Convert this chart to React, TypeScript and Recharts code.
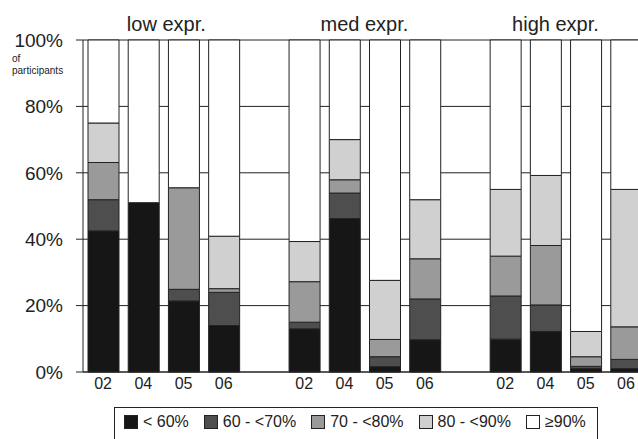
import { BarChart, Bar, XAxis, YAxis, CartesianGrid } from "recharts";

// adherence categories, stacked bottom to top
const groups = ["low expr.", "med expr.", "high expr."];
const waves = ["02", "04", "05", "06"];
const seriesNames = ["< 60%", "60 - <70%", "70 - <80%", "80 - <90%", "\u226590%"];
const seriesColors = ["#161616", "#4e4e4e", "#9a9a9a", "#d0d0d0", "#ffffff"];

// values per group x wave (low 02..06, med 02..06, high 02..06), in %
const lt60 = [42.5, 51, 21.4, 14, 13, 46.2, 1.6, 9.7, 9.9, 12.2, 1, 1];
const p60to70 = [9.4, 0, 3.5, 10, 2, 7.7, 3, 12.3, 13, 8, 0.7, 2.8];
const p70to80 = [11.2, 0, 30.6, 1.1, 12.2, 4, 5.2, 12.1, 12, 17.9, 2.9, 9.8];
const p80to90 = [11.9, 0, 0, 15.8, 12.1, 12.1, 17.8, 17.8, 20.1, 21.1, 7.6, 41.4];
const ge90 = [25, 49, 44.5, 59.1, 60.7, 30, 72.4, 48.1, 45, 40.8, 87.8, 45];

const yTicks = [0, 20, 40, 60, 80, 100];

const seriesData = [lt60, p60to70, p70to80, p80to90, ge90];
const keys = ["s0", "s1", "s2", "s3", "s4"];

// one spacer slot between groups
const rows: any[] = [];
groups.forEach((g, gi) => {
  waves.forEach((w, wi) => {
    const idx = gi * waves.length + wi;
    const row: any = { key: `${gi}-${w}`, label: w, title: wi === 1 ? g : "" };
    keys.forEach((k, si) => (row[k] = seriesData[si][idx]));
    rows.push(row);
  });
  if (gi < groups.length - 1) rows.push({ key: `gap${gi}`, label: "", title: "" });
});

const font = '"Liberation Sans", Arial, Helvetica, sans-serif';
const ink = "#222";

const titleShift: Record<string, number> = { "low expr.": 23, "med expr.": 20, "high expr.": 10 };

const GroupTitle = (props: any) => {
  const { x, y, index } = props;
  const t = rows[index]?.title;
  if (!t) return null;
  return (
    <text x={x + titleShift[t]} y={y} textAnchor="middle" fontSize={20} fill={ink} fontFamily={font}>
      {t}
    </text>
  );
};

export default function App() {
  return (
    <div style={{ position: "absolute", left: 0, top: 0, width: 638, height: 439, overflow: "hidden", background: "#fff", fontFamily: font }}>
      <BarChart width={646} height={400} data={rows} margin={{ top: 10, right: 0, left: 0, bottom: 0 }}>
        <CartesianGrid vertical={false} stroke={ink} strokeWidth={1} />
        <XAxis
          dataKey="key"
          height={28}
          interval={0}
          tickLine={false}
          tickSize={6}
          tickMargin={0}
          axisLine={{ stroke: ink }}
          tick={{ fontSize: 16, fill: ink, fontFamily: font }}
          tickFormatter={(_v: any, i: number) => rows[i]?.label ?? ""}
        />
        <XAxis
          xAxisId="top"
          orientation="top"
          dataKey="key"
          height={30}
          interval={0}
          axisLine={false}
          tickLine={false}
          tickSize={0}
          tickMargin={9}
          tick={<GroupTitle />}
        />
        <YAxis
          width={83}
          domain={[0, 100]}
          ticks={yTicks}
          tickSize={7}
          tickMargin={13}
          axisLine={{ stroke: ink }}
          tickLine={{ stroke: ink }}
          tick={{ fontSize: 19, fill: ink, fontFamily: font }}
          tickFormatter={(v: number) => `${v}%`}
        />
        {keys.map((k, i) => (
          <Bar
            key={k}
            dataKey={k}
            stackId="a"
            barSize={31}
            fill={seriesColors[i]}
            stroke={ink}
            strokeWidth={1}
            isAnimationActive={false}
          />
        ))}
      </BarChart>
      <div style={{ position: "absolute", left: 12, top: 53, fontSize: 10, lineHeight: "12px", color: ink }}>
        of
        <br />
        participants
      </div>
      <div
        style={{
          position: "absolute",
          left: 114,
          top: 407,
          width: 484,
          height: 44,
          border: `1px solid ${ink}`,
          boxSizing: "border-box",
          display: "flex",
          alignItems: "flex-start",
          paddingLeft: 9,
          paddingTop: 5,
          fontSize: 16,
          color: ink,
          whiteSpace: "nowrap",
        }}
      >
        {seriesNames.map((n, i) => (
          <div key={n} style={{ display: "flex", alignItems: "center", marginRight: 15, flexShrink: 0 }}>
            <span
              style={{
                display: "inline-block",
                width: 12,
                height: 12,
                background: seriesColors[i],
                border: `1px solid ${ink}`,
                marginRight: 5,
                flexShrink: 0,
              }}
            />
            <span style={{ lineHeight: "18px" }}>{n}</span>
          </div>
        ))}
      </div>
    </div>
  );
}
